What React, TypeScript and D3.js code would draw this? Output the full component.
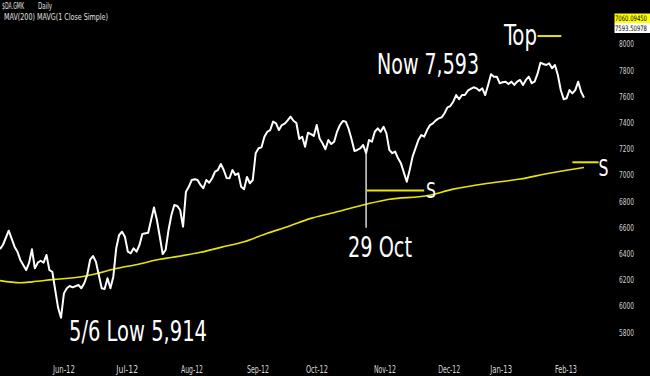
import React from 'react';
import * as d3 from 'd3';

const W = 650;
const H = 376;

// Header
const ticker = '$DA.GMK';
const period = 'Daily';
const studyLabel = 'MAV(200) MAVG(1 Close Simple)';

// Price series: [trading-day index, close]
const price: [number, number][] = [
  [0, 6438], [1, 6469], [3, 6578], [5, 6456], [6, 6418], [7, 6355], [9, 6278], [10, 6332],
  [11, 6436], [12, 6291], [13, 6334], [14, 6349], [15, 6334], [16, 6393], [17, 6278], [18, 6265],
  [19, 6126], [20, 5990], [21, 5914], [22, 6100], [23, 6139], [24, 6156], [25, 6146], [27, 6164],
  [28, 6139], [29, 6177], [30, 6240], [31, 6355], [32, 6385], [33, 6342], [34, 6240], [35, 6139],
  [36, 6133], [37, 6215], [38, 6139], [39, 6227], [40, 6444], [41, 6545], [42, 6570], [43, 6532],
  [44, 6418], [45, 6406], [46, 6444], [47, 6418], [48, 6469], [49, 6553], [51, 6563], [52, 6660],
  [53, 6755], [54, 6660], [55, 6532], [56, 6400], [57, 6431], [58, 6583], [59, 6698], [60, 6774],
  [61, 6767], [62, 6736], [63, 6609], [64, 6876], [65, 6914], [66, 6965], [67, 6970], [68, 6965],
  [69, 6927], [70, 6902], [71, 6965], [72, 6944], [73, 6978], [74, 7028], [75, 7041], [76, 7087],
  [77, 7041], [78, 6980], [79, 6978], [80, 7041], [81, 7003], [82, 7016], [83, 6914], [84, 6894],
  [85, 6988], [86, 6940], [87, 6965], [88, 7169], [89, 7207], [90, 7214], [91, 7295], [92, 7333],
  [93, 7346], [94, 7410], [95, 7397], [96, 7346], [97, 7384], [98, 7395], [99, 7420], [100, 7448],
  [101, 7417], [102, 7400], [103, 7278], [104, 7295], [105, 7219], [106, 7326], [107, 7315], [108, 7301],
  [109, 7384], [110, 7281], [111, 7245], [112, 7199], [113, 7270], [114, 7239], [115, 7257], [116, 7333],
  [117, 7384], [118, 7415], [119, 7410], [120, 7354], [121, 7275], [122, 7186], [123, 7194], [124, 7207],
  [125, 7232], [126, 7169], [127, 7270], [128, 7257], [129, 7333], [130, 7359], [131, 7333], [132, 7371],
  [133, 7321], [134, 7194], [135, 7169], [136, 7181], [137, 7130], [138, 7092], [140, 6952], [141, 7041],
  [142, 7143], [144, 7270], [145, 7308], [146, 7295], [147, 7346], [148, 7384], [149, 7397], [150, 7420],
  [151, 7435], [152, 7443], [153, 7474], [154, 7519], [155, 7529], [156, 7562], [157, 7613], [158, 7581],
  [159, 7613], [160, 7613], [161, 7646], [162, 7660], [163, 7672], [164, 7664], [165, 7646], [166, 7664],
  [167, 7613], [168, 7690], [169, 7771], [170, 7753], [171, 7753], [172, 7703], [173, 7710], [174, 7715],
  [175, 7697], [176, 7715], [177, 7690], [178, 7715], [179, 7728], [180, 7690], [181, 7728], [182, 7753],
  [183, 7703], [184, 7715], [185, 7774], [186, 7860], [187, 7850], [188, 7842], [189, 7855], [190, 7817],
  [191, 7842], [192, 7766], [193, 7651], [194, 7581], [195, 7588], [196, 7651], [197, 7626], [198, 7651],
  [199, 7715], [200, 7638], [201, 7593],
];

// 200-day moving average: [trading-day index, value]
const mav200: [number, number][] = [
  [0, 6197], [7, 6181], [11, 6188], [18, 6205], [28, 6227], [33, 6250], [39, 6284], [48, 6324],
  [55, 6360], [59, 6374], [69, 6413], [76, 6451], [84, 6494], [92, 6558], [99, 6609], [107, 6672],
  [114, 6711], [126, 6780], [134, 6818], [147, 6845], [156, 6895], [168, 6940], [179, 6972],
  [189, 7016], [195, 7039], [201, 7060],
];

// Axis ticks
const yTicks = [5800, 6000, 6200, 6400, 6600, 6800, 7000, 7200, 7400, 7600, 7800, 8000];
const monthLabels = ['Jun-12', 'Jul-12', 'Aug-12', 'Sep-12', 'Oct-12', 'Nov-12', 'Dec-12', 'Jan-13', 'Feb-13'];
const monthStartDays = [18.2, 40, 62.3, 85, 105.3, 128.7, 150.8, 168.7, 191];

// Last values (badges)
const lastMav = '7060.09450';
const lastClose = '7593.50978';

// Annotations
const lowDay = 21;
const markDay = 126;
const markBottom = 6600;
const support1 = { from: 126.3, to: 146, value: 6885 };
const support2 = { from: 197, to: 206, value: 7100 };
const topLine = { from: 185, to: 193.2, value: 8063 };

const narrow = "'Liberation Sans Narrow', 'DejaVu Sans Condensed', 'Arial Narrow', 'Liberation Sans', sans-serif";
const yellow = '#e6e600';

export default function App() {
  const x = d3.scaleLinear().domain([0, 201]).range([0, 584]);
  const y = d3.scaleLinear().domain([5800, 8000]).range([332.7, 44.3]);

  const priceLine = d3
    .line<[number, number]>()
    .x((d) => x(d[0]))
    .y((d) => y(d[1]));
  const maLine = d3
    .line<[number, number]>()
    .x((d) => x(d[0]))
    .y((d) => y(d[1]))
    .curve(d3.curveMonotoneX);

  const markClose = price.find((p) => p[0] === markDay)![1];

  return (
    <>
      <style>{'html,body{margin:0;padding:0;background:#000;}'}</style>
      <svg width={W} height={H} style={{ display: 'block', background: '#000' }}>
        <rect x={0} y={0} width={W} height={H} fill="#000" />

        {/* header */}
        <text x={2} y={9} fill="#e0e0e0" fontFamily={narrow} fontSize={9} textLength={22} lengthAdjust="spacingAndGlyphs">
          {ticker}
        </text>
        <text x={38} y={9} fill="#e0e0e0" fontFamily={narrow} fontSize={9} textLength={14} lengthAdjust="spacingAndGlyphs">
          {period}
        </text>
        <text x={4} y={20} fill="#e0e0e0" fontFamily={narrow} fontSize={9} textLength={104} lengthAdjust="spacingAndGlyphs">
          {studyLabel}
        </text>

        {/* y axis labels */}
        {yTicks.map((t) => (
          <text
            key={t}
            x={619}
            y={y(t) + 3}
            fill="#d0d0d0"
            fontFamily={narrow}
            fontSize={9}
            textLength={15}
            lengthAdjust="spacingAndGlyphs"
          >
            {t}
          </text>
        ))}

        {/* x axis labels */}
        {monthLabels.map((m, i) => (
          <text
            key={m}
            x={x(monthStartDays[i])}
            y={373}
            fill="#d8d8d8"
            fontFamily={narrow}
            fontSize={10.5}
            textLength={22}
            lengthAdjust="spacingAndGlyphs"
          >
            {m}
          </text>
        ))}

        {/* moving average */}
        <path d={maLine(mav200) || ''} fill="none" stroke={yellow} strokeWidth={1.6} />

        {/* price */}
        <path d={priceLine(price) || ''} fill="none" stroke="#fff" strokeWidth={2} strokeLinejoin="round" />

        {/* 29 Oct marker */}
        <line x1={x(markDay)} x2={x(markDay)} y1={y(markClose)} y2={y(markBottom)} stroke="#e8e8e8" strokeWidth={1.4} />
        <text x={348} y={257} fill="#fff" fontFamily={narrow} fontSize={28} textLength={64} lengthAdjust="spacingAndGlyphs">
          29 Oct
        </text>

        {/* support lines */}
        <line x1={x(support1.from)} x2={x(support1.to)} y1={y(support1.value)} y2={y(support1.value)} stroke={yellow} strokeWidth={2} />
        <text x={426} y={198} fill="#fff" fontFamily={narrow} fontSize={21} textLength={10} lengthAdjust="spacingAndGlyphs">
          S
        </text>
        <line x1={x(support2.from)} x2={x(support2.to)} y1={y(support2.value)} y2={y(support2.value)} stroke={yellow} strokeWidth={2} />
        <text x={598.5} y={176} fill="#fff" fontFamily={narrow} fontSize={23} textLength={10} lengthAdjust="spacingAndGlyphs">
          S
        </text>

        {/* top */}
        <text x={504} y={45} fill="#fff" fontFamily={narrow} fontSize={28} textLength={33} lengthAdjust="spacingAndGlyphs">
          Top
        </text>
        <line x1={x(topLine.from)} x2={x(topLine.to)} y1={y(topLine.value)} y2={y(topLine.value)} stroke={yellow} strokeWidth={2} />

        {/* now */}
        <text x={377} y={74} fill="#fff" fontFamily={narrow} fontSize={28} textLength={102} lengthAdjust="spacingAndGlyphs">
          Now 7,593
        </text>

        {/* low */}
        <text x={x(lowDay) + 8} y={341} fill="#fff" fontFamily={narrow} fontSize={28} textLength={138} lengthAdjust="spacingAndGlyphs">
          5/6 Low 5,914
        </text>

        {/* last value badges */}
        <rect x={614.5} y={13.5} width={35.5} height={9.5} fill="#ffff00" />
        <text x={615} y={21.2} fill="#000" fontFamily={narrow} fontSize={7.5} textLength={32} lengthAdjust="spacingAndGlyphs">
          {lastMav}
        </text>
        <rect x={614.5} y={23} width={35.5} height={10} fill="#fff" />
        <text x={615} y={31} fill="#000" fontFamily={narrow} fontSize={7.5} textLength={32} lengthAdjust="spacingAndGlyphs">
          {lastClose}
        </text>
      </svg>
    </>
  );
}
